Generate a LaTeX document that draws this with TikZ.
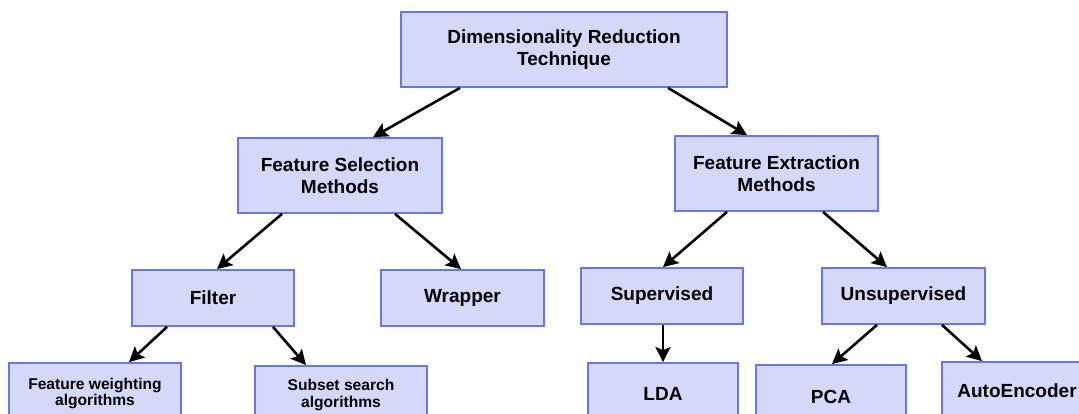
\documentclass[tikz,border=0pt]{standalone}
\usepackage{fontspec}
\setmainfont{Liberation Sans}
\usetikzlibrary{arrows.meta}
\definecolor{boxfill}{HTML}{D6D8FA}
\definecolor{boxline}{HTML}{6677EE}
\begin{document}
\begin{tikzpicture}[x=1pt,y=-1pt,
  box/.style={draw=boxline,fill=boxfill,line width=1.8pt,inner sep=0pt,
    align=center,font=\fontsize{19}{22}\selectfont\bfseries},
  smallbox/.style={box,font=\fontsize{15.6}{16.5}\selectfont\bfseries},
  arr/.style={draw=black,line width=2.6pt,-{Stealth[length=15pt,width=15pt,inset=3pt]}}]
\useasboundingbox (0,0) rectangle (1079,414);
\clip (0,0) rectangle (1079,414);
\fill[white] (0,0) rectangle (1079,414);
\node[box,minimum width=326pt,minimum height=75pt] (top) at (564,49.5) {Dimensionality Reduction\\Technique};
\node[box,minimum width=204pt,minimum height=75pt] (fs) at (340,175.5) {Feature Selection\\Methods};
\node[box,minimum width=203pt,minimum height=75pt] (fe) at (776.5,173.5) {Feature Extraction\\Methods};
\node[box,minimum width=162pt,minimum height=56pt] (filter) at (213,298) {Filter};
\node[box,minimum width=163pt,minimum height=56pt] (wrapper) at (462.5,298) {Wrapper};
\node[box,minimum width=162pt,minimum height=56pt] (sup) at (662,296) {Supervised};
\node[box,minimum width=163pt,minimum height=56pt] (unsup) at (903.5,296) {Unsupervised};
\node[smallbox,minimum width=172pt,minimum height=61pt] (fw) at (95,393.5) {Feature weighting\\algorithms};
\node[smallbox,minimum width=172pt,minimum height=58pt] (ss) at (341,395) {Subset search\\algorithms};
\node[box,minimum width=150pt,minimum height=62pt] (lda) at (663,394) {LDA};
\node[box,minimum width=150pt,minimum height=64pt] (pca) at (831,397) {PCA};
\node[box,minimum width=150pt,minimum height=58pt] (ae) at (1017,391) {AutoEncoder};
\draw[arr] ([xshift=-104pt]top.south) -- ([xshift=33pt]fs.north);
\draw[arr] ([xshift=104pt]top.south) -- ([xshift=-29.5pt]fe.north);
\draw[arr] ([xshift=-58pt]fs.south) -- ([xshift=4pt]filter.north);
\draw[arr] ([xshift=55pt]fs.south) -- ([xshift=-1.5pt]wrapper.north);
\draw[arr] ([xshift=-49.5pt]fe.south) -- ([xshift=1pt]sup.north);
\draw[arr] ([xshift=46.5pt]fe.south) -- ([xshift=-16.5pt]unsup.north);
\draw[arr] ([xshift=-46pt]filter.south) -- ([xshift=34pt]fw.north);
\draw[arr] ([xshift=60pt]filter.south) -- ([xshift=-35pt]ss.north);
\draw[arr] ([xshift=1pt]sup.south) -- (lda.north);
\draw[arr] ([xshift=-26.5pt]unsup.south) -- ([xshift=1pt]pca.north);
\draw[arr] ([xshift=38.5pt]unsup.south) -- ([xshift=-35pt]ae.north);
\end{tikzpicture}
\end{document}
